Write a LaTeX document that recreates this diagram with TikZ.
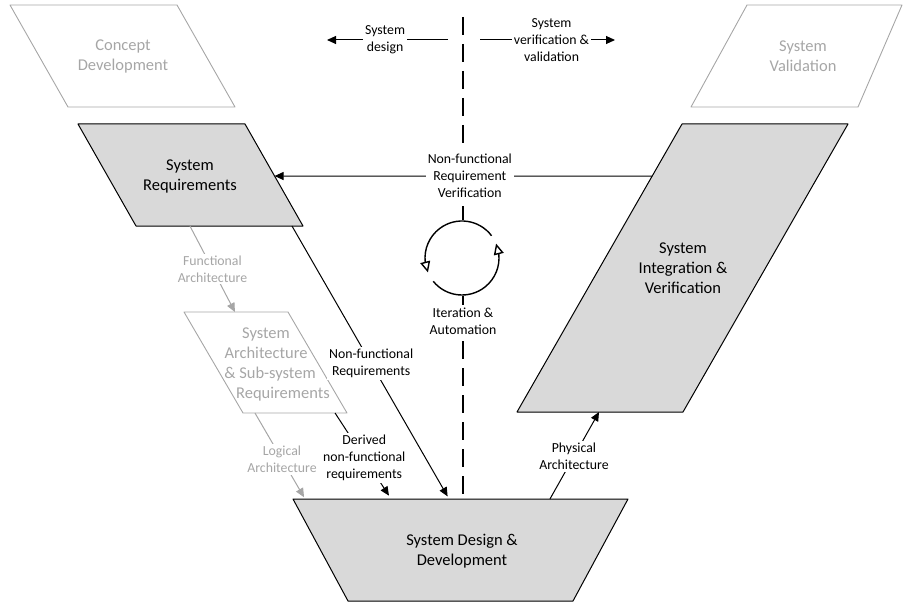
\documentclass[tikz,border=0pt]{standalone}
\usepackage{fontspec}
\setmainfont{Carlito}
\usetikzlibrary{arrows.meta,bending,calc}
\definecolor{shade}{HTML}{D9D9D9}
\definecolor{ghost}{HTML}{A6A6A6}
\begin{document}
\begin{tikzpicture}[x=1pt,y=-1pt,
  shapeon/.style={draw=black,fill=shade,line width=1pt,line join=round},
  shapeoff/.style={draw=ghost,line width=0.9pt,line join=round},
  nodetxt/.style={align=center,font=\fontsize{16.5}{20}\selectfont,inner sep=0pt},
  ghosttxt/.style={nodetxt,text=ghost},
  lbl/.style={align=center,font=\fontsize{13.8}{17.2}\selectfont,fill=white,inner sep=2pt},
  glbl/.style={lbl,text=ghost},
  conn/.style={draw=black,line width=1pt,-{Triangle[length=9pt,width=8pt]}},
  gconn/.style={draw=ghost,line width=1pt,-{Triangle[length=9pt,width=8pt]}},
  cyclearrow/.style={draw=black,line width=1.4pt,-{Triangle[open,length=11pt,width=10pt]}},
  divider/.style={draw=black,line width=1.1pt,dash pattern=on 18pt off 9pt}
]
\useasboundingbox (0,0) rectangle (904,604);

% divider
\coordinate (dtop) at (463,17);
\coordinate (dbot) at (463,499);
\draw[divider] (dtop) -- (dbot);

% iteration cycle
\coordinate (cyc) at (462,258);
\fill[white] (cyc) circle (38);
\draw[cyclearrow] ($(cyc)+(-37:37)$) arc[start angle=-37,end angle=-203,radius=37];
\draw[cyclearrow] ($(cyc)+(-219:37)$) arc[start angle=-219,end angle=-383,radius=37];
\node[lbl] (iter) at (463,321) {Iteration \&\\Automation};

% Concept Development
\coordinate (cd1) at (10,5); \coordinate (cd2) at (177,5);
\coordinate (cd3) at (235,107); \coordinate (cd4) at (68,107);
\path[shapeoff] (cd1) -- (cd2) -- (cd3) -- (cd4) -- cycle;
\node[ghosttxt] (cd) at (123,56) {Concept\\Development};

% System Validation
\coordinate (sv1) at (747,5); \coordinate (sv2) at (902,5);
\coordinate (sv3) at (858,107); \coordinate (sv4) at (691,107);
\path[shapeoff] (sv1) -- (sv2) -- (sv3) -- (sv4) -- cycle;
\node[ghosttxt] (sv) at (803,56) {System\\Validation};

% System Requirements
\coordinate (sr1) at (78,124); \coordinate (sr2) at (245,124);
\coordinate (sr3) at (303,226); \coordinate (sr4) at (136,226);
\path[shapeon] (sr1) -- (sr2) -- (sr3) -- (sr4) -- cycle;
\node[nodetxt] (sr) at (190,176) {System\\Requirements};

% System Integration & Verification
\coordinate (siv1) at (682,124); \coordinate (siv2) at (848,124);
\coordinate (siv3) at (683,412); \coordinate (siv4) at (517,412);
\path[shapeon] (siv1) -- (siv2) -- (siv3) -- (siv4) -- cycle;
\node[nodetxt] (siv) at (683,268) {System\\Integration \&\\Verification};

% System Architecture & Sub-system Requirements
\coordinate (sa1) at (184,312); \coordinate (sa2) at (288,312);
\coordinate (sa3) at (347,413); \coordinate (sa4) at (243,413);
\path[shapeoff] (sa1) -- (sa2) -- (sa3) -- (sa4) -- cycle;
\node[ghosttxt] (sa) at (266,364) {System\\Architecture\\\hspace*{8pt}\& Sub-system\\\hspace*{34pt}Requirements};

% System Design & Development
\coordinate (sd1) at (293,499); \coordinate (sd2) at (628,499);
\coordinate (sd3) at (573,601); \coordinate (sd4) at (348,601);
\path[shapeon] (sd1) -- (sd2) -- (sd3) -- (sd4) -- cycle;
\node[nodetxt] (sdd) at (462,551) {System Design \&\\Development};

% connector end points on the shapes
\coordinate (srE)   at ($(sr2)!0.51!(sr3)$);
\coordinate (sivW)  at ($(siv1)!0.1806!(siv4)$);
\coordinate (srNFR) at ($(sr4)!0.934!(sr3)$);
\coordinate (srFA)  at ($(sr4)!0.323!(sr3)$);
\coordinate (saFA)  at ($(sa1)!0.49!(sa2)$);
\coordinate (saDer) at ($(sa4)!0.885!(sa3)$);
\coordinate (saLA)  at ($(sa4)!0.115!(sa3)$);
\coordinate (sdLA)  at ($(sd1)!0.036!(sd2)$);
\coordinate (sdDer) at ($(sd1)!0.293!(sd2)$);
\coordinate (sdNFR) at ($(sd1)!0.466!(sd2)$);
\coordinate (sdPA)  at ($(sd1)!0.767!(sd2)$);
\coordinate (sivPA) at ($(siv4)!0.494!(siv3)$);
\coordinate (dsgA)  at (448,40);
\coordinate (dsgB)  at (327,40);
\coordinate (vvA)   at (480,40);
\coordinate (vvB)   at (615,40);

% top phase arrows
\draw[conn] (dsgA) -- node[lbl,pos=0.52] (dsg) {System\\design} (dsgB);
\draw[conn] (vvA) -- node[lbl,pos=0.53] (vv) {System\\verification \&\\validation} (vvB);

% connectors
\draw[conn] (sivW) -- node[lbl,pos=0.483] (nfrv) {Non-functional\\Requirement\\Verification} (srE);
\draw[conn,shorten >=3pt] (srNFR) -- node[lbl,pos=0.504] (nfr) {Non-functional\\Requirements} (sdNFR);
\draw[conn,shorten >=4pt] (saDer) -- node[lbl,pos=0.52] (der) {Derived\\non-functional\\requirements} (sdDer);
\draw[conn] (sdPA) -- node[lbl,pos=0.49] (pa) {Physical\\Architecture} (sivPA);
\draw[gconn] (srFA) -- node[glbl,pos=0.5] (fa) {Functional\\Architecture} (saFA);
\draw[gconn,shorten >=2pt] (saLA) -- node[glbl,pos=0.54] (la) {Logical\\Architecture} (sdLA);
\end{tikzpicture}
\end{document}
